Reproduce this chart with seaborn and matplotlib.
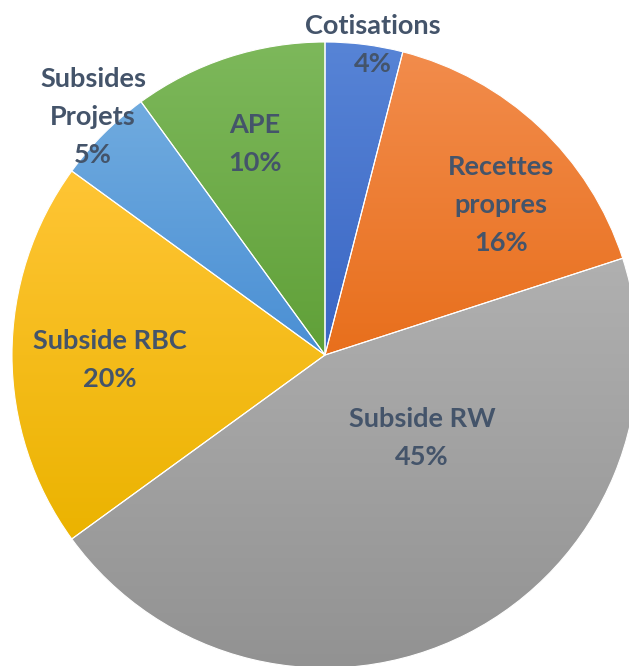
import numpy as np
import matplotlib
matplotlib.use('Agg')
import matplotlib.pyplot as plt
import seaborn as sns

# Data
labels = ["Cotisations", "Recettes\npropres", "Subside RW", "Subside RBC", "Subsides\nProjets", "APE"]
shares = [4, 16, 45, 20, 5, 10]
# gradient colours (top, bottom) for each slice
top_colors = ["#5784D6", "#F28C4C", "#B0B0B0", "#FFC535", "#70ABDF", "#7DB85B"]
bottom_colors = ["#3A66C4", "#E86F1C", "#929292", "#EBB300", "#4A8FD4", "#60A038"]
# label centres in pixel coords (x, y from top)
label_pos = [(373, 45), (501, 205), (422, 438), (110, 360), (93, 117), (255, 144)]

sns.set_theme(style="white")
plt.rcParams['font.family'] = ['Lato', 'DejaVu Sans']

W, H = 629, 666
fig = plt.figure(figsize=(W / 100, H / 100), dpi=100)
ax = fig.add_axes([0, 0, 1, 1])
ax.set_xlim(0, W)
ax.set_ylim(0, H)
ax.set_aspect('equal')
ax.axis('off')

cx, cy, r = 325, H - 355, 313
wedges, _ = ax.pie(shares, startangle=90, counterclock=False, center=(cx, cy), radius=r,
                   wedgeprops=dict(edgecolor='white', linewidth=0.8))

for w, c_top, c_bot in zip(wedges, top_colors, bottom_colors):
    ext = w.get_path().get_extents()
    t = np.linspace(0, 1, 256)[:, None]
    c1 = np.array(matplotlib.colors.to_rgb(c_bot))
    c2 = np.array(matplotlib.colors.to_rgb(c_top))
    grad = (c1[None, None, :] * (1 - t[:, :, None]) + c2[None, None, :] * t[:, :, None])
    grad = np.repeat(grad, 2, axis=1)
    im = ax.imshow(grad, extent=[ext.x0, ext.x1, ext.y0, ext.y1], origin='lower',
                   aspect='auto', zorder=1, interpolation='bilinear')
    im.set_clip_path(w)
    w.set_facecolor('none')
    w.set_zorder(2)

ax.set_xlim(0, W)
ax.set_ylim(0, H)

for lab, s, (x, y) in zip(labels, shares, label_pos):
    ax.text(x, H - y, f"{lab}\n{s}%", ha='center', va='center', fontsize=19.5,
            fontweight='bold', color='#44546A', linespacing=1.68, zorder=3)

fig.savefig("out.png", dpi=100)
